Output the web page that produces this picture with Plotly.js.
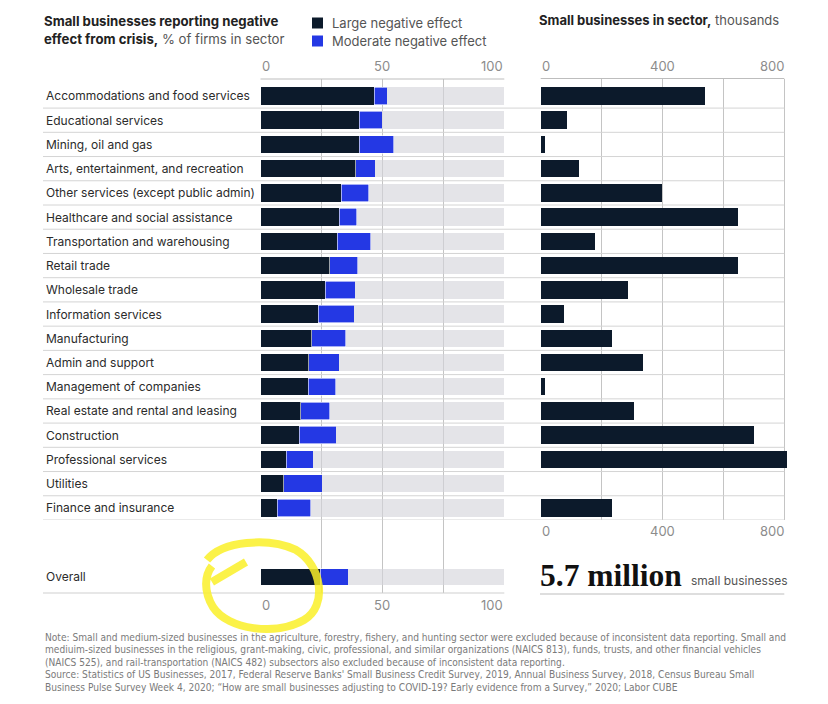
<!DOCTYPE html>
<html>
<head>
<meta charset="utf-8">
<script src="https://cdn.plot.ly/plotly-3.0.1.min.js"></script>
<style>
  html, body { margin: 0; padding: 0; background: #ffffff; }
  #chart { width: 828px; height: 704px; }
</style>
</head>
<body>
<div id="chart"></div>
<script>
// ---------------- DATA ----------------
const categories = [
  "Accommodations and food services",
  "Educational services",
  "Mining, oil and gas",
  "Arts, entertainment, and recreation",
  "Other services (except public admin)",
  "Healthcare and social assistance",
  "Transportation and warehousing",
  "Retail trade",
  "Wholesale trade",
  "Information services",
  "Manufacturing",
  "Admin and support",
  "Management of companies",
  "Real estate and rental and leasing",
  "Construction",
  "Professional services",
  "Utilities",
  "Finance and insurance"
];
// % of firms in sector
const largeNegative    = [46.7, 40.6, 40.6, 39.1, 33.2, 32.4, 31.4, 28.3, 26.5, 23.7, 21.0, 19.8, 19.6, 16.6, 15.9, 10.6, 9.5, 6.9];
const moderateNegative = [5.3, 9.3, 14.1, 8.0, 11.1, 7.1, 13.9, 11.6, 12.4, 14.8, 14.0, 12.6, 11.3, 11.9, 15.2, 11.1, 15.9, 13.8];
// small businesses in sector, thousands
const smallBusinesses  = [538, 87, 15, 127, 398, 648, 177, 648, 287, 76, 235, 336, 15, 307, 698, 808, null, 235];

const overallCategory = ["Overall"];
const overallLarge    = [24.5];
const overallModerate = [11.5];

const pctTicks = [0, 50, 100];
const pctGrid  = [0, 25, 50, 75, 100];
const thTicks  = [0, 400, 800];
const thGrid   = [0, 200, 400, 600, 800];

const headlineNumber = "5.7 million";
const headlineUnit   = "small businesses";

// ---------------- LAYOUT HELPERS ----------------
const W = 828, H = 704;
const px = x => x / W;
const py = y => 1 - y / H;

const DARK = "#0c1a2b";
const BLUE = "#2438e4";
const REST = "rgba(212,212,218,0.62)";
const FONT = "Inter, 'Open Sans', sans-serif";

const remainder = categories.map((_, i) => 100 - largeNegative[i] - moderateNegative[i]);
const overallRemainder = overallLarge.map((v, i) => 100 - v - overallModerate[i]);

const rowWidth = 0.72;

const traces = [
  { type: "bar", orientation: "h", y: categories, x: largeNegative, xaxis: "x", yaxis: "y",
    marker: { color: DARK }, width: rowWidth, hoverinfo: "skip", showlegend: false },
  { type: "bar", orientation: "h", y: categories, x: moderateNegative, xaxis: "x", yaxis: "y",
    marker: { color: BLUE, line: { color: "#ffffff", width: 0.6 } }, width: rowWidth, hoverinfo: "skip", showlegend: false },
  { type: "bar", orientation: "h", y: categories, x: remainder, xaxis: "x", yaxis: "y",
    marker: { color: REST }, width: rowWidth, hoverinfo: "skip", showlegend: false },

  { type: "bar", orientation: "h", y: categories, x: smallBusinesses, xaxis: "x2", yaxis: "y",
    marker: { color: DARK }, width: rowWidth, hoverinfo: "skip", showlegend: false },

  { type: "bar", orientation: "h", y: overallCategory, x: overallLarge, xaxis: "x3", yaxis: "y3",
    marker: { color: DARK }, width: 0.7, hoverinfo: "skip", showlegend: false },
  { type: "bar", orientation: "h", y: overallCategory, x: overallModerate, xaxis: "x3", yaxis: "y3",
    marker: { color: BLUE, line: { color: "#ffffff", width: 0.6 } }, width: 0.7, hoverinfo: "skip", showlegend: false },
  { type: "bar", orientation: "h", y: overallCategory, x: overallRemainder, xaxis: "x3", yaxis: "y3",
    marker: { color: REST }, width: 0.7, hoverinfo: "skip", showlegend: false }
];

const gridColor = "#c4c4c4";
const commonX = {
  showticklabels: false, ticks: "", showline: false, zeroline: false,
  showgrid: true, gridcolor: gridColor, gridwidth: 1, fixedrange: true
};

const LEFT0 = 260.5, LEFT1 = 504.3, RIGHT0 = 540.7, RIGHT1 = 788.4;

const layout = {
  width: W, height: H,
  margin: { l: 0, r: 0, t: 0, b: 0, pad: 0 },
  paper_bgcolor: "#ffffff", plot_bgcolor: "rgba(0,0,0,0)",
  barmode: "stack", bargap: 0.28,
  showlegend: false,
  font: { family: FONT, size: 13, color: "#2b2b2b" },
  xaxis:  Object.assign({}, commonX, { domain: [px(LEFT0), px(LEFT1)], range: [0, 100], tickmode: "array", tickvals: pctGrid, anchor: "y" }),
  xaxis2: Object.assign({}, commonX, { domain: [px(RIGHT0), px(RIGHT1)], range: [0, 812], tickmode: "array", tickvals: thGrid, anchor: "y" }),
  xaxis3: Object.assign({}, commonX, { domain: [px(LEFT0), px(LEFT1)], range: [0, 100], tickmode: "array", tickvals: pctGrid, anchor: "y3" }),
  yaxis:  { type: "category", categoryorder: "array", categoryarray: categories,
            domain: [py(520), py(79)], range: [17.5, -0.70],
            showticklabels: false, showgrid: false, zeroline: false, showline: false, ticks: "", fixedrange: true },
  yaxis3: { type: "category", categoryorder: "array", categoryarray: overallCategory,
            domain: [py(593), py(520)], range: [0.66, -2.35],
            showticklabels: false, showgrid: false, zeroline: false, showline: false, ticks: "", fixedrange: true },
  shapes: [],
  annotations: []
};

// top axis lines
layout.shapes.push({ type: "line", xref: "paper", yref: "paper", x0: px(LEFT0), x1: px(LEFT1), y0: py(79), y1: py(79), line: { color: "#bdbdbd", width: 1 } });
layout.shapes.push({ type: "line", xref: "paper", yref: "paper", x0: px(RIGHT0), x1: px(784.3), y0: py(78.5), y1: py(78.5), line: { color: "#bdbdbd", width: 1 } });
// row separators
for (let i = 0; i < categories.length; i++) {
  layout.shapes.push({ type: "line", xref: "paper", yref: "y", x0: px(43), x1: px(784.3), y0: i + 0.5, y1: i + 0.5,
    line: { color: "#d4d4d4", width: 1 }, layer: "above" });
}
// overall bottom line
layout.shapes.push({ type: "line", xref: "paper", yref: "paper", x0: px(43), x1: px(LEFT1), y0: py(593), y1: py(593), line: { color: "#cfcfcf", width: 1 } });
// headline underline
layout.shapes.push({ type: "line", xref: "paper", yref: "paper", x0: px(540), x1: px(784.3), y0: py(594), y1: py(594), line: { color: "#bdbdbd", width: 1 } });

// legend squares
layout.shapes.push({ type: "rect", xref: "paper", yref: "paper", x0: px(312), x1: px(323), y0: py(28.5), y1: py(17.5), fillcolor: DARK, line: { width: 0 } });
layout.shapes.push({ type: "rect", xref: "paper", yref: "paper", x0: px(312), x1: px(323), y0: py(46.5), y1: py(35.5), fillcolor: BLUE, line: { width: 0 } });

// yellow hand-drawn circle (marker scribble)
const scribble = [
  ["M", 207, 560], ["C", 222, 541, 268, 537, 296, 550], ["C", 322, 565, 328, 606, 304, 620],
  ["C", 276, 636, 228, 630, 213, 607], ["C", 203, 590, 205, 575, 212, 566],
  ["M", 212, 582], ["L", 246, 562]
];
const pathStr = scribble.map(seg => {
  const cmd = seg[0]; const nums = seg.slice(1); const out = [];
  for (let k = 0; k < nums.length; k += 2) out.push(px(nums[k]).toFixed(4) + "," + py(nums[k + 1]).toFixed(4));
  return cmd + out.join(" ");
}).join(" ");
layout.shapes.push({ type: "path", xref: "paper", yref: "paper", path: pathStr,
  line: { color: "rgba(250,240,40,0.85)", width: 8 }, layer: "above" });

const A = layout.annotations;
function note(obj) { A.push(Object.assign({ showarrow: false, borderpad: 0 }, obj)); }

// titles
note({ xref: "paper", yref: "paper", x: px(43), y: py(21), xanchor: "left", yanchor: "middle",
  text: "<b>Small businesses reporting negative</b>", font: { family: FONT, size: 13.2, color: "#222" } });
note({ xref: "paper", yref: "paper", x: px(43), y: py(39), xanchor: "left", yanchor: "middle",
  text: "<b>effect from crisis,</b><span style='color:#555'> % of firms in sector</span>", font: { family: FONT, size: 13.2, color: "#222" } });
note({ xref: "paper", yref: "paper", x: px(331), y: py(23), xanchor: "left", yanchor: "middle",
  text: "Large negative effect", font: { family: FONT, size: 13, color: "#555" } });
note({ xref: "paper", yref: "paper", x: px(331), y: py(41), xanchor: "left", yanchor: "middle",
  text: "Moderate negative effect", font: { family: FONT, size: 13, color: "#555" } });
note({ xref: "paper", yref: "paper", x: px(538), y: py(20), xanchor: "left", yanchor: "middle",
  text: "<b>Small businesses in sector,</b><span style='color:#555'> thousands</span>", font: { family: FONT, size: 13, color: "#222" } });

// tick labels
function tickLabels(vals, xref, ypx) {
  vals.forEach((v, i) => {
    const anchor = i === 0 ? "left" : (i === vals.length - 1 ? "right" : "center");
    note({ xref: xref, yref: "paper", x: v, y: py(ypx), xanchor: anchor, yanchor: "middle",
      text: String(v), font: { family: FONT, size: 13, color: "#8c8c8c" } });
  });
}
tickLabels(pctTicks, "x", 66);
tickLabels(thTicks, "x2", 66);
tickLabels(thTicks, "x2", 531);
tickLabels(pctTicks, "x3", 605);

// category labels
const LABEL_FONT = { family: FONT, size: 12, color: "#2b2b2b" };
categories.forEach(c => {
  note({ xref: "paper", yref: "y", x: px(45), y: c, xanchor: "left", yanchor: "middle", text: c, font: LABEL_FONT });
});
overallCategory.forEach(c => {
  note({ xref: "paper", yref: "y3", x: px(45), y: c, xanchor: "left", yanchor: "middle", text: c, font: LABEL_FONT });
});

// headline
note({ xref: "paper", yref: "paper", x: px(539), y: py(575), xanchor: "left", yanchor: "middle",
  text: "<b>" + headlineNumber + "</b>", font: { family: "'Liberation Serif', 'DejaVu Serif', serif", size: 31.5, color: "#111" } });
note({ xref: "paper", yref: "paper", x: px(690), y: py(580), xanchor: "left", yanchor: "middle",
  text: headlineUnit, font: { family: FONT, size: 12, color: "#555" } });

// footnote
const footLines = [
  "Note: Small and medium-sized businesses in the agriculture, forestry, fishery, and hunting sector were excluded because of inconsistent data reporting. Small and",
  "mediuim-sized businesses in the religious, grant-making, civic, professional, and similar organizations (NAICS 813), funds, trusts, and other financial vehicles",
  "(NAICS 525), and rail-transportation (NAICS 482) subsectors also excluded because of inconsistent data reporting.",
  "Source: Statistics of US Businesses, 2017, Federal Reserve Banks' Small Business Credit Survey, 2019, Annual Business Survey, 2018, Census Bureau Small",
  "Business Pulse Survey Week 4, 2020; \u201cHow are small businesses adjusting to COVID-19? Early evidence from a Survey,\u201d 2020; Labor CUBE"
];
const footY = [637, 649.5, 662, 674.5, 687];
footLines.forEach((t, i) => {
  note({ xref: "paper", yref: "paper", x: px(44), y: py(footY[i]), xanchor: "left", yanchor: "middle",
    text: t, font: { family: "'Liberation Sans Narrow', 'DejaVu Sans Condensed', sans-serif", size: 10.1, color: "#7a7a7a" } });
});

Plotly.newPlot("chart", traces, layout, { staticPlot: true, displayModeBar: false });
</script>
</body>
</html>
